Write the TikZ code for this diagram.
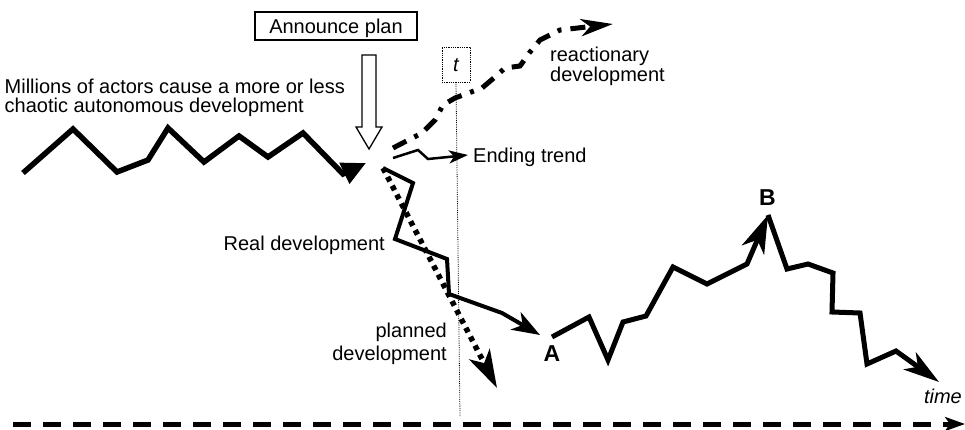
\documentclass[tikz,border=0pt]{standalone}
\usepackage{fontspec}
\setmainfont{Liberation Sans}
\usetikzlibrary{arrows.meta}
\begin{document}
\begin{tikzpicture}[x=1pt,y=-1pt,
  lbl/.style={inner sep=0pt, font=\fontsize{20}{20}\selectfont},
  big/.style={inner sep=0pt, font=\fontsize{23}{23}\selectfont\bfseries},
  trend/.style={line width=5pt, line join=miter, line cap=butt}]
\useasboundingbox (0,0) rectangle (965,430);

% texts
\node[lbl, anchor=base west] (txt1) at (4.5,94) {Millions of actors cause a more or less};
\node[lbl, anchor=base west] (txt2) at (4.5,113) {chaotic autonomous development};
\node[draw, line width=1.3pt, minimum width=162pt, minimum height=28pt, inner sep=0pt] (plan) at (336,26) {};
\node[lbl, anchor=base] (plantxt) at (336,33.5) {Announce plan};
\node[draw, densely dotted, line width=0.8pt, minimum width=28pt, minimum height=35pt, inner sep=0pt] (tbox) at (456,64.5) {};
\node[lbl, anchor=base, font=\fontsize{20}{20}\selectfont\itshape] (tlab) at (456,71.5) {t};
\node[lbl, anchor=base west] (ending) at (473,163) {Ending trend};
\node[lbl, anchor=base west] (react1) at (550,62) {reactionary};
\node[lbl, anchor=base west] (react2) at (550,82) {development};
\node[lbl, anchor=base east] (real) at (385,251) {Real development};
\node[lbl, anchor=base east] (plan1) at (447,337) {planned};
\node[lbl, anchor=base east] (plan2) at (447,360) {development};
\node[big, anchor=base] (A) at (552,361) {A};
\node[big, anchor=base] (B) at (767.5,206) {B};
\node[lbl, anchor=base east, font=\fontsize{20}{20}\selectfont\itshape] (time) at (962,403) {time};

% named end points
\coordinate (tb) at (460,417);
\coordinate (ax0) at (13,424);
\coordinate (ax1) at (965,424);
\coordinate (split) at (383,168);
\coordinate (Atip) at (540,335);
\coordinate (Astart) at (552,337);
\coordinate (Btip) at (768,215);
\coordinate (Ptip) at (497,388);
\coordinate (Rtip) at (613,24);
\coordinate (Etip) at (468,155);
\coordinate (Ztip) at (366,163);
\coordinate (Ttip) at (939,382);

% time line t
\draw[densely dotted, line width=0.8pt] (tbox.south) -- (tb);

% announce arrow (hollow)
\draw[line width=1.3pt, fill=white] (362,55) -- (376,55) -- (376,127) -- (382,127) -- (369,149) -- (356,127) -- (362,127) -- cycle;

% autonomous development
\draw[trend, line width=5.5pt, -{Triangle[length=24pt,width=22pt]}]
  (23,173) -- (73,129) -- (117,172) -- (148,160) -- (168,128) -- (204,162)
  -- (239,136) -- (268,157) -- (303,133) -- (343,174) -- (Ztip);

% reactionary development
\draw[line width=5pt, dash pattern=on 15pt off 9pt on 4pt off 9pt,
  -{Stealth[length=32pt,width=17pt,inset=9pt]}]
  (393,148) -- (422,133) -- (435,120) -- (443,105) -- (455,98) -- (482,88)
  -- (495,77) -- (505,68) -- (520,66) -- (530,52) -- (540,40) -- (560,30) -- (Rtip);

% ending trend
\draw[line width=2.5pt, line join=miter, -{Stealth[length=19pt,width=13pt,inset=5pt]}]
  (393,158) -- (418,150) -- (428,159) -- (Etip);

% planned development
\draw[line width=5.5pt, dash pattern=on 5pt off 5pt,
  -{Stealth[length=38pt,width=23pt,inset=10pt]}] (split) -- (Ptip);

% real development
\draw[line width=4pt, line join=miter, -{Stealth[length=28pt,width=20pt,inset=8pt]}]
  (split) -- (413,183) -- (395,239) -- (447,259) -- (449,294) -- (502,313) -- (Atip);

% A to B
\draw[trend, -{Stealth[length=38pt,width=24pt,inset=11pt]}]
  (Astart) -- (589,317) -- (608,360) -- (623,322) -- (646,316) -- (673,267)
  -- (707,284) -- (747,264) -- (Btip);

% after B
\draw[trend, -{Stealth[length=36pt,width=21pt,inset=10pt]}]
  (Btip) -- (787,269) -- (808,264) -- (833,273) -- (832,312) -- (860,313)
  -- (867,364) -- (896,351) -- (Ttip);

% time axis
\draw[line width=5pt, dash pattern=on 18pt off 12pt,
  -{Stealth[length=20pt,width=14pt,inset=5pt]}] (ax0) -- (ax1);
\end{tikzpicture}
\end{document}
